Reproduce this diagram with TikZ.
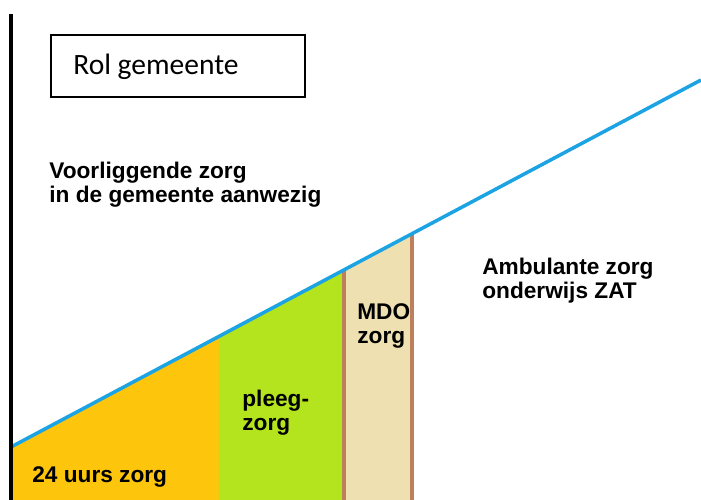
\documentclass[tikz,border=0pt]{standalone}
\usepackage{fontspec}
\setmainfont{Liberation Sans}
\newfontfamily\calibri{Carlito}
\usepackage{tikz}
\usetikzlibrary{calc}
\usetikzlibrary{positioning}

\definecolor{oranje}{RGB}{253,198,12}
\definecolor{groen}{RGB}{179,228,30}
\definecolor{beige}{RGB}{238,224,177}
\definecolor{bruin}{RGB}{189,128,90}
\definecolor{lijnblauw}{RGB}{27,163,227}

\begin{document}
\begin{tikzpicture}[x=0.02cm, y=-0.02cm,
		label/.style={anchor=base west, inner sep=0pt, align=left, font=\fontsize{12.9}{14}\selectfont\bfseries},
		scheiding/.style={bruin, line width=2pt},
		helling/.style={lijnblauw, line width=2pt}]
				\useasboundingbox (0,0) rectangle (701,500);
				
				\coordinate (lijnbegin) at (11,447);
				\coordinate (lijneind) at (701,80);
				\coordinate (p1) at ($(lijnbegin)!0.3014!(lijneind)$);
				\coordinate (p2) at ($(lijnbegin)!0.4826!(lijneind)$);
				\coordinate (p3) at ($(lijnbegin)!0.5812!(lijneind)$);
				
				\fill[oranje] (11,500) -- (lijnbegin) -- (p1) -- (p1 |- 0,500) -- cycle;
				\fill[groen] (p1 |- 0,500) -- (p1) -- (p2) -- (p2 |- 0,500) -- cycle;
				\fill[beige] (p2 |- 0,500) -- (p2) -- (p3) -- (p3 |- 0,500) -- cycle;
				
				\draw[scheiding] (p2) -- (p2 |- 0,500);
				\draw[scheiding] (p3) -- (p3 |- 0,500);
				\draw[helling] (lijnbegin) -- (lijneind);
				\draw[black, line width=2pt] (11,14) -- (11,500);
				
				\draw[line width=0.85pt] (51,35) rectangle (305,97);
				\node[anchor=base west, inner sep=0pt, font=\calibri\fontsize{16.8}{20}\selectfont] (rol) at (73,75) {Rol gemeente};
				
				% base anchor = baseline of the last line
				\node[label] (voorliggend) at (49,203) {Voorliggende zorg\\in de gemeente aanwezig};
				\node[label] (ambulant) at (482,299) {Ambulante zorg\\onderwijs ZAT};
				\node[label] (mdo) at (357,344) {MDO\\zorg};
				\node[label] (pleeg) at (242,431) {pleeg-\\zorg};
				\node[label] (etmaal) at (32,482) {24 uurs zorg};
			\end{tikzpicture}
\end{document}
